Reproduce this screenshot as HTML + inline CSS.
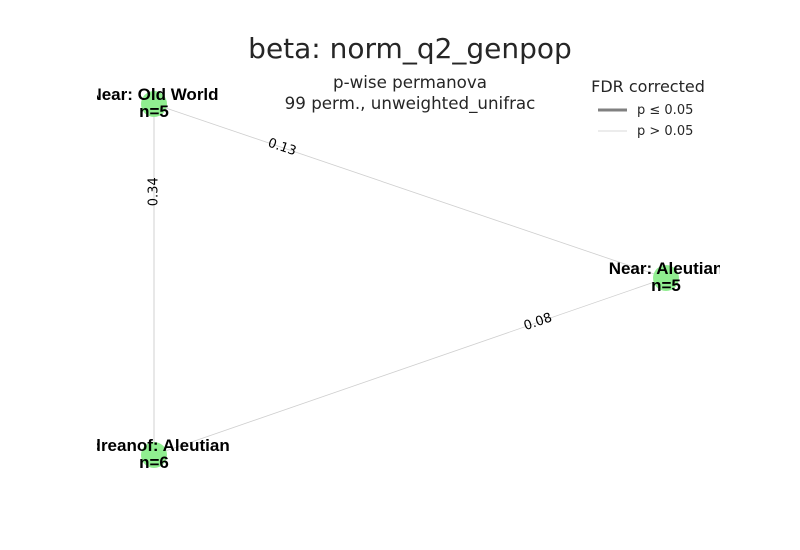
<!DOCTYPE html>
<html><head><meta charset="utf-8"><style>
body{margin:0;background:#fff;font-family:"Liberation Sans","DejaVu Sans",sans-serif;}
svg{display:block}
</style></head><body>
<svg id="c" width="800" height="550" xmlns="http://www.w3.org/2000/svg">
<rect width="800" height="550" fill="#fff"/>
<text x="410" y="58" text-anchor="middle" font-size="28" fill="#262626" font-family="DejaVu Sans, sans-serif">beta: norm_q2_genpop</text>
<text x="410" y="88" text-anchor="middle" font-size="16.7" fill="#262626" font-family="DejaVu Sans, sans-serif">p-wise permanova</text>
<text x="410" y="109" text-anchor="middle" font-size="16.7" fill="#262626" font-family="DejaVu Sans, sans-serif">99 perm., unweighted_unifrac</text>
<g font-family="DejaVu Sans, sans-serif">
<text x="648" y="92" text-anchor="middle" font-size="16" fill="#262626">FDR corrected</text>
<line x1="598" y1="110" x2="627" y2="110" stroke="#808080" stroke-width="3"/>
<text x="637" y="114" font-size="13" fill="#262626">p ≤ 0.05</text>
<line x1="598" y1="131" x2="627" y2="131" stroke="#e6e6e6" stroke-width="1.5"/>
<text x="637" y="135" font-size="13" fill="#262626">p &gt; 0.05</text>
</g>
<defs><clipPath id="clip"><rect x="97" y="60" width="623" height="440"/></clipPath></defs>
<g id="plot" clip-path="url(#clip)"></g>
</svg>
<script>
const nodeNames = ["Near: Old World", "Near: Aleutian", "Adreanof: Aleutian"];
const nodeCounts = [5, 5, 6];
const nodeX = [154, 666, 154];
const nodeY = [104, 278, 455];
const edgeFrom = [0, 1, 0];
const edgeTo = [1, 2, 2];
const edgePvals = [0.13, 0.08, 0.34];
const edgeLabels = ["0.13", "0.08", "0.34"];

const NS = "http://www.w3.org/2000/svg";
const g = document.getElementById('plot');
function mk(tag, attrs){const e=document.createElementNS(NS,tag);for(const k in attrs)e.setAttribute(k,attrs[k]);return e;}

edgePvals.forEach((p,i)=>{
  const a=edgeFrom[i], b=edgeTo[i];
  const x1=nodeX[a],y1=nodeY[a],x2=nodeX[b],y2=nodeY[b];
  const vertical = Math.abs(x1-x2)<1;
  const line=mk('line',{x1,y1,x2,y2,stroke: p<=0.05?'#808080':(vertical?'#e3e3e3':'#cfcfcf'),'stroke-width': p<=0.05?3:(vertical?1.6:0.8)});
  
  
  g.appendChild(line);
  const mx=x1+(x2-x1)*0.25, my=y1+(y2-y1)*0.25;
  let ang=Math.atan2(y2-y1,x2-x1)*180/Math.PI;
  if(ang>90)ang-=180; if(ang<-90)ang+=180;
  if(vertical) ang=-90;
  const t=mk('text',{x:mx,y:my,'text-anchor':'middle','dominant-baseline':'central','font-size':13,fill:'#000','font-family':'DejaVu Sans, sans-serif',transform:`rotate(${ang} ${mx} ${my})`});
  t.textContent=edgeLabels[i];
  
  
  g.appendChild(t);
});
nodeNames.forEach((n,i)=>{
  const c=mk('circle',{cx:nodeX[i],cy:nodeY[i],r:13,fill:'#90ee90'});
  
  
  g.appendChild(c);
  const t1=mk('text',{x:nodeX[i],y:nodeY[i]-4,'text-anchor':'middle','font-size':17,'font-weight':'bold',fill:'#000','font-family':'Liberation Sans, sans-serif'});
  t1.textContent=n;
  
  
  g.appendChild(t1);
  const t2=mk('text',{x:nodeX[i],y:nodeY[i]+13,'text-anchor':'middle','font-size':17,'font-weight':'bold',fill:'#000','font-family':'Liberation Sans, sans-serif'});
  t2.textContent='n='+nodeCounts[i];
  
  
  g.appendChild(t2);
});
</script>
</body></html>
